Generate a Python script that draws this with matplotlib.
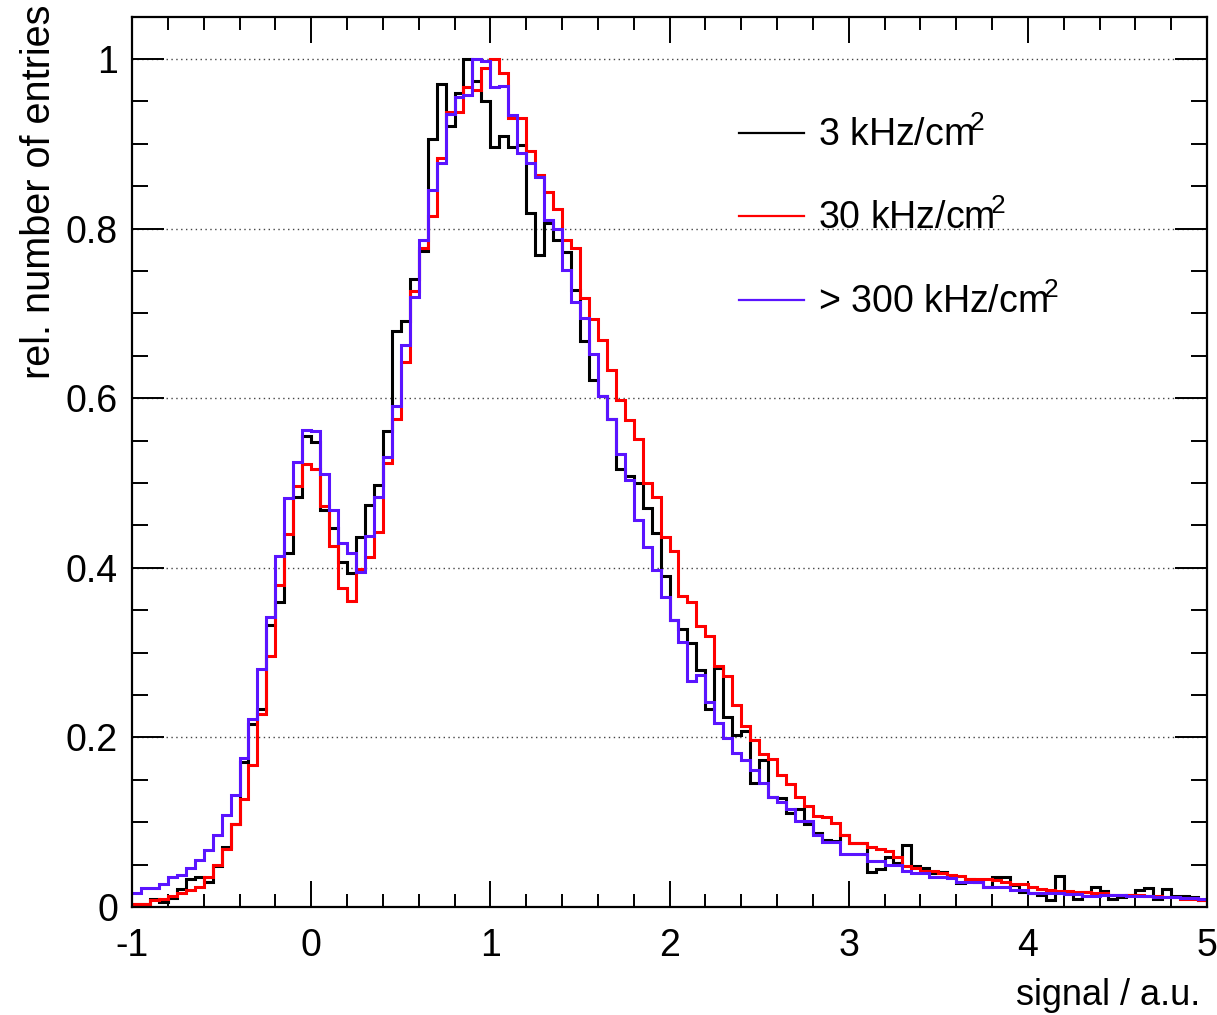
import numpy as np
import matplotlib
matplotlib.use('Agg')
import matplotlib.pyplot as plt
from matplotlib.ticker import MultipleLocator
from matplotlib.lines import Line2D

# %% data: relative number of entries per bin (bin width 0.05, from -1 to 5)
bin_edges = np.linspace(-1, 5, 121)

rate_3k = [
    0.004, 0.004, 0.009, 0.006, 0.011, 0.021, 0.033, 0.035, 0.030, 0.048,
    0.071, 0.098, 0.171, 0.216, 0.234, 0.333, 0.360, 0.418, 0.484, 0.555,
    0.548, 0.468, 0.447, 0.407, 0.394, 0.436, 0.474, 0.498, 0.561, 0.679,
    0.691, 0.740, 0.773, 0.906, 0.971, 0.921, 0.960, 1.000, 0.974, 0.950,
    0.896, 0.909, 0.896, 0.899, 0.818, 0.769, 0.807, 0.787, 0.772, 0.727,
    0.667, 0.621, 0.603, 0.576, 0.517, 0.508, 0.500, 0.470, 0.441, 0.390,
    0.339, 0.328, 0.311, 0.280, 0.233, 0.282, 0.224, 0.203, 0.208, 0.146,
    0.173, 0.130, 0.129, 0.111, 0.116, 0.098, 0.087, 0.079, 0.078, 0.085,
    0.076, 0.075, 0.041, 0.045, 0.059, 0.052, 0.073, 0.048, 0.046, 0.040,
    0.041, 0.037, 0.028, 0.033, 0.030, 0.024, 0.035, 0.035, 0.026, 0.018,
    0.017, 0.014, 0.008, 0.036, 0.016, 0.010, 0.018, 0.023, 0.019, 0.009,
    0.012, 0.014, 0.020, 0.022, 0.009, 0.021, 0.013, 0.013, 0.012, 0.008,
]

rate_30k = [
    0.004, 0.004, 0.008, 0.009, 0.013, 0.017, 0.020, 0.024, 0.035, 0.049,
    0.068, 0.098, 0.127, 0.167, 0.228, 0.296, 0.380, 0.440, 0.497, 0.522,
    0.516, 0.473, 0.426, 0.376, 0.361, 0.399, 0.413, 0.442, 0.524, 0.575,
    0.643, 0.726, 0.777, 0.815, 0.883, 0.938, 0.937, 0.967, 0.964, 0.989,
    1.000, 0.983, 0.930, 0.930, 0.892, 0.863, 0.843, 0.823, 0.787, 0.777,
    0.718, 0.693, 0.669, 0.633, 0.598, 0.574, 0.552, 0.500, 0.484, 0.436,
    0.420, 0.367, 0.360, 0.331, 0.319, 0.284, 0.272, 0.238, 0.213, 0.197,
    0.181, 0.174, 0.156, 0.145, 0.130, 0.119, 0.107, 0.106, 0.099, 0.085,
    0.076, 0.076, 0.071, 0.068, 0.066, 0.059, 0.048, 0.046, 0.042, 0.042,
    0.040, 0.038, 0.036, 0.033, 0.033, 0.033, 0.032, 0.030, 0.027, 0.027,
    0.024, 0.021, 0.020, 0.019, 0.019, 0.018, 0.018, 0.017, 0.016, 0.014,
    0.014, 0.014, 0.014, 0.013, 0.013, 0.012, 0.012, 0.010, 0.010, 0.008,
]

rate_300k = [
    0.017, 0.022, 0.022, 0.027, 0.035, 0.038, 0.046, 0.055, 0.067, 0.085,
    0.108, 0.132, 0.176, 0.222, 0.281, 0.342, 0.414, 0.482, 0.525, 0.563,
    0.561, 0.511, 0.468, 0.429, 0.418, 0.395, 0.438, 0.483, 0.531, 0.591,
    0.663, 0.719, 0.787, 0.845, 0.877, 0.935, 0.955, 0.958, 1.000, 0.998,
    0.967, 0.968, 0.934, 0.889, 0.877, 0.861, 0.810, 0.800, 0.751, 0.714,
    0.695, 0.652, 0.603, 0.575, 0.534, 0.503, 0.456, 0.424, 0.397, 0.366,
    0.338, 0.312, 0.267, 0.274, 0.242, 0.217, 0.199, 0.182, 0.173, 0.162,
    0.146, 0.130, 0.124, 0.116, 0.101, 0.101, 0.085, 0.077, 0.077, 0.063,
    0.063, 0.063, 0.054, 0.054, 0.049, 0.049, 0.043, 0.040, 0.040, 0.035,
    0.035, 0.034, 0.030, 0.030, 0.030, 0.024, 0.024, 0.024, 0.020, 0.020,
    0.017, 0.017, 0.016, 0.016, 0.015, 0.015, 0.013, 0.013, 0.014, 0.014,
    0.014, 0.013, 0.013, 0.013, 0.012, 0.012, 0.012, 0.011, 0.011, 0.010,
]

labels = [r'3 kHz/cm$\!^{2}$', r'30 kHz/cm$\!^{2}$', r'> 300 kHz/cm$\!^{2}$']
colors = ['black', '#ff0000', '#5a14ff']

# %% style (ROOT-like)
plt.rcParams['font.family'] = ['Liberation Sans', 'DejaVu Sans']
plt.rcParams['mathtext.fontset'] = 'custom'
plt.rcParams['mathtext.rm'] = 'Liberation Sans'
plt.rcParams['mathtext.it'] = 'Liberation Sans:italic'
plt.rcParams['mathtext.bf'] = 'Liberation Sans:bold'

fig = plt.figure(figsize=(12.17, 10.15), dpi=100)
ax = fig.add_axes([132 / 1217, 108 / 1015, 1075 / 1217, 890 / 1015])

for vals, col in zip([rate_3k, rate_30k, rate_300k], colors):
    ax.stairs(vals, bin_edges, baseline=None, color=col, linewidth=2.2)

ax.set_xlim(-1, 5)
ax.set_ylim(0, 1.0495)

ax.xaxis.set_major_locator(MultipleLocator(1))
ax.xaxis.set_minor_locator(MultipleLocator(0.2))
ax.yaxis.set_major_locator(MultipleLocator(0.2))
ax.yaxis.set_minor_locator(MultipleLocator(0.05))

ax.tick_params(which='both', direction='in', top=True, right=True, width=1.4, colors='black')
ax.tick_params(axis='x', which='major', length=19, pad=15, labelsize=27)
ax.tick_params(axis='x', which='minor', length=9.5)
ax.tick_params(axis='y', which='major', length=23, pad=10, labelsize=27)
ax.tick_params(axis='y', which='minor', length=11.5)

ax.set_xticks([-1, 0, 1, 2, 3, 4, 5])
ax.set_xticklabels(['-1', '0', '1', '2', '3', '4', '5'])
ax.set_yticks([0, 0.2, 0.4, 0.6, 0.8, 1.0])
ax.set_yticklabels(['0', '0.2', '0.4', '0.6', '0.8', '1'])

ax.grid(True, axis='y', which='major', linestyle=(0, (1, 2.5)), color='#444444', linewidth=1.0)
ax.set_axisbelow(True)

for sp in ax.spines.values():
    sp.set_linewidth(1.6)

ax.set_xlabel('signal / a.u.', fontsize=26, loc='right', labelpad=10)
ax.xaxis.label.set_x(0.9935)
ax.set_ylabel('rel. number of entries', fontsize=28.5, loc='top', labelpad=6)
ax.yaxis.label.set_y(1.0135)

handles = [Line2D([], [], color=c, linewidth=1.6) for c in colors]
ax.legend(handles, labels, loc='upper left', bbox_to_anchor=(0.5505, 0.905),
          frameon=False, fontsize=27, handlelength=1.75, handletextpad=0.37,
          labelspacing=1.22, borderaxespad=0)

fig.savefig('out.png', dpi=100)
